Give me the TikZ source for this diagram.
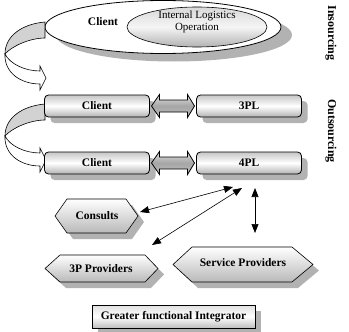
\documentclass[tikz,border=0pt]{standalone}
\usepackage{fontspec}
\setmainfont{Liberation Serif}
\usetikzlibrary{shadows,calc,arrows.meta,shapes.geometric}
\begin{document}
\begin{tikzpicture}[x=1pt,y=-1pt,
  shadowed/.style={drop shadow={shadow xshift=6pt,shadow yshift=-6pt,fill=gray!60,opacity=1}},
  bigshadow/.style={drop shadow={shadow xshift=11pt,shadow yshift=-8pt,fill=gray!60,opacity=1}},
  bfont/.style={font=\bfseries\fontsize{11.5}{13}\selectfont},
  barbox/.style={draw=black,line width=0.8pt,rounded corners=4pt,minimum width=105pt,minimum height=22pt,inner sep=0pt,
     top color=gray!45,bottom color=gray!60,middle color=white,shadowed,bfont},
  hexfill/.style={draw=black,line width=0.6pt,top color=white,bottom color=gray!55,shadowed},
  arrfill/.style={draw=black,line width=0.8pt,top color=gray!25,bottom color=gray!50,middle color=gray!70},
  ribbon/.style={draw=black,line width=0.6pt},
  biarrow/.style={{Triangle[length=9pt,width=7pt]}-{Triangle[length=9pt,width=7pt]},line width=0.6pt},
  sidelabel/.style={rotate=-90,font=\bfseries\fontsize{12}{14}\selectfont},
  dblarr/.pic={\path[arrfill] (-21.5,0) -- (-13.5,-11.5) -- (-13.5,-6) -- (14.5,-6) -- (14.5,-11.5) -- (21.5,0)
      -- (14.5,11.5) -- (14.5,6) -- (-13.5,6) -- (-13.5,11.5) -- cycle;},
  turnarr/.pic={
    \path[ribbon,fill=gray!35] (0,0) .. controls (-23,2) and (-40,14) .. (-40,32)
        .. controls (-33,24) and (-15,16) .. (0,16) -- cycle;
    \path[ribbon,fill=white] (-40,32) .. controls (-35,42) and (-20,49) .. (-5,49) -- (-5,44) -- (1,56) -- (-5,68) -- (-5,62)
        .. controls (-25,62) and (-41,50) .. (-40,32) -- cycle;}
]
\useasboundingbox (0,0) rectangle (349,332);

% insourcing ellipses
\node[draw=black,line width=0.8pt,ellipse,fill=white,minimum width=236pt,minimum height=53pt,bigshadow] (outer) at (163,27) {};
\node[bfont] (cl0) at (103,22) {Client};
\node[draw=black,line width=0.6pt,ellipse,minimum width=140pt,minimum height=40pt,
      top color=gray!30,bottom color=gray!60,middle color=gray!8] (ilo) at (197,27) {};
\node[align=center,font=\fontsize{11}{12.5}\selectfont] (ilotxt) at (197,22) {Internal Logistics\\Operation};

% turning arrows
\pic at (45,22) {turnarr};
\pic at (45,104) {turnarr};

% outsourcing rows
\node[barbox] (c1) at (97,106) {Client};
\node[barbox] (p3) at (249,106) {3PL};
\node[barbox] (c2) at (97,163) {Client};
\node[barbox] (p4) at (249,163) {4PL};
\pic at ($(c1.east)!0.5!(p3.west)$) {dblarr};
\pic at ($(c2.east)!0.5!(p4.west)$) {dblarr};

% side labels
\node[sidelabel] (ins) at (331,33) {Insourcing};
\node[sidelabel] (outs) at (331,131) {Outsourcing};

% providers
\path[hexfill] (55,216) -- (67,199) -- (126,199) -- (138,216) -- (126,233) -- (67,233) -- cycle;
\node[bfont] (cons) at (97,216) {Consults};
\path[hexfill] (45,268.5) -- (60,255) -- (145,255) -- (158,268.5) -- (145,282) -- (60,282) -- cycle;
\node[bfont] (tpp) at (101,269) {3P Providers};
\path[hexfill] (173,264.5) -- (192,247) -- (292,247) -- (313,264.5) -- (292,282) -- (192,282) -- cycle;
\node[bfont] (sp) at (243,263) {Service Providers};

\coordinate (a1) at (233,187);
\coordinate (b1) at (140,212);
\coordinate (a2) at (242,188);
\coordinate (b2) at (152,245);
\coordinate (a3) at (255,188);
\coordinate (b3) at (255,233);
\draw[biarrow] (b1) -- (a1);
\draw[biarrow] (b2) -- (a2);
\draw[biarrow] (a3) -- (b3);

% bottom box
\node[draw=black,line width=0.8pt,minimum width=163pt,minimum height=23pt,inner sep=0pt,
      top color=gray!25,bottom color=gray!50,middle color=white,shadowed,bfont] (gfi) at (173.5,316.5) {Greater functional Integrator};
\end{tikzpicture}
\end{document}
